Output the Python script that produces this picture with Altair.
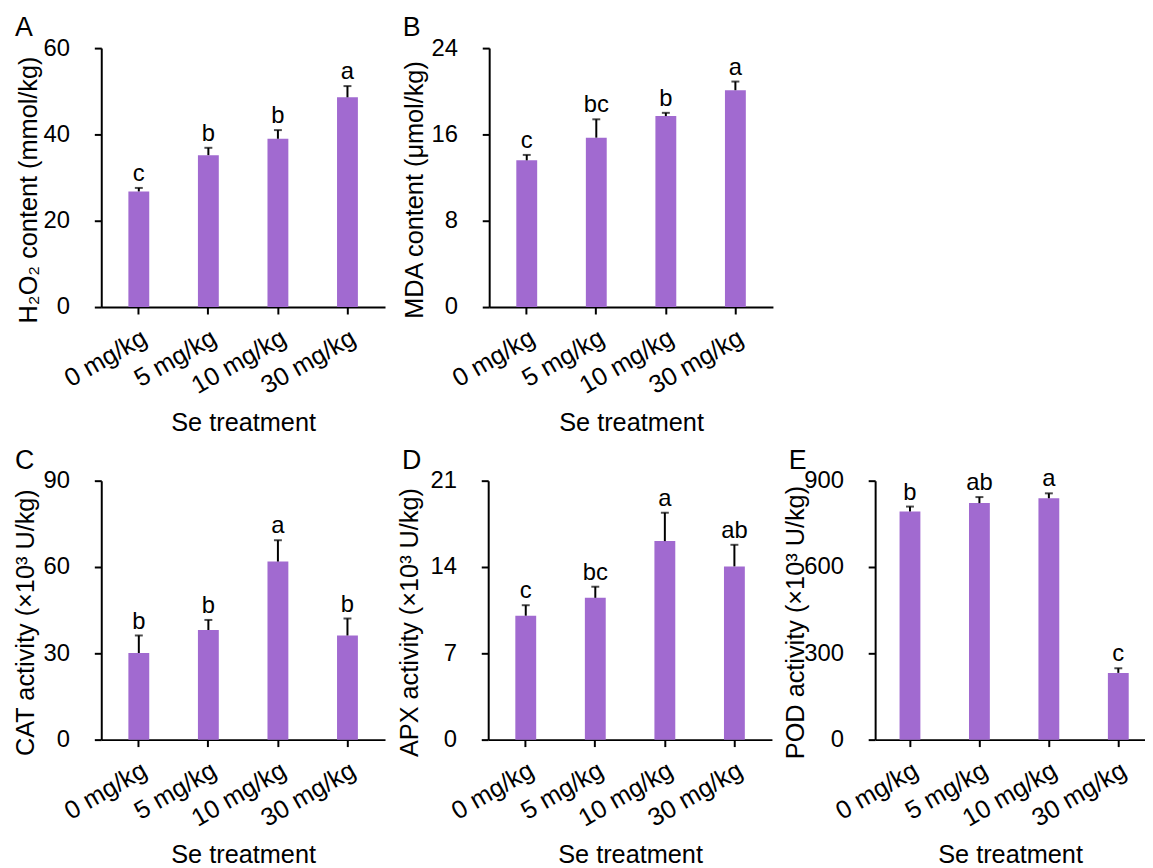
import altair as alt
import pandas as pd

categories = ["0 mg/kg", "5 mg/kg", "10 mg/kg", "30 mg/kg"]

h2o2_mean = [26.8, 35.2, 39.0, 48.6]
h2o2_err = [0.8, 1.7, 2.0, 2.6]
h2o2_sig = ["c", "b", "b", "a"]

mda_mean = [13.6, 15.7, 17.7, 20.1]
mda_err = [0.5, 1.7, 0.3, 0.8]
mda_sig = ["c", "bc", "b", "a"]

cat_mean = [30.1, 38.1, 61.9, 36.2]
cat_err = [6.1, 3.5, 7.4, 5.9]
cat_sig = ["b", "b", "a", "b"]

apx_mean = [10.05, 11.5, 16.1, 14.05]
apx_err = [0.85, 0.9, 2.3, 1.75]
apx_sig = ["c", "bc", "a", "ab"]

pod_mean = [793, 822, 839, 232]
pod_err = [17, 21, 17, 16]
pod_sig = ["b", "ab", "a", "c"]

panel_letters = ["A", "B", "C", "D", "E"]
y_titles = [
    "H\u2082O\u2082 content (mmol/kg)",
    "MDA content (\u03bcmol/kg)",
    "CAT activity (\u00d710\u00b3 U/kg)",
    "APX activity (\u00d710\u00b3 U/kg)",
    "POD activity (\u00d710\u00b3 U/kg)",
]
y_max = [60, 24, 90, 21, 900]
y_ticks = [[0, 20, 40, 60], [0, 8, 16, 24], [0, 30, 60, 90], [0, 7, 14, 21], [0, 300, 600, 900]]
x_title = "Se treatment"

PURPLE = "#A16AD0"
FONT = "Liberation Sans"
H = 261


def panel(letter, means, errs, sigs, ytitle, ymax, yticks, title_x,
          width=286, pad_outer=0.39, align=0.5):
    df = pd.DataFrame({"cat": categories, "mean": means, "err": errs, "sig": sigs})
    df["upper"] = df["mean"] + df["err"]

    xscale = alt.Scale(domain=categories, paddingInner=0.7, paddingOuter=pad_outer, align=align)
    xaxis = alt.Axis(
        title=x_title, labelAngle=330, labelAlign="right", labelBaseline="top",
        labelPadding=11, tickSize=7, tickWidth=2, tickColor="black",
        domainColor="black", domainWidth=2, labelFontSize=25.5, labelColor="black",
        labelFont=FONT, titleFont=FONT, titleFontSize=25.5, titleFontWeight="normal",
        titleColor="black", titleY=104, titleBaseline="top", grid=False,
    )
    yscale = alt.Scale(domain=[0, ymax], nice=False, zero=True)
    yaxis = alt.Axis(
        title=ytitle, values=yticks, tickSize=7, tickWidth=2, tickColor="black",
        domainColor="black", domainWidth=2, labelFontSize=24, labelColor="black",
        labelPadding=25, labelFont=FONT, labelFlush=False, titleFont=FONT,
        titleFontSize=25.5, titleFontWeight="normal", titleColor="black",
        titleX=title_x, titleY=H / 2 + 12, titleAngle=270, titleAlign="center",
        titleBaseline="bottom", grid=False,
    )

    def X():
        return alt.X("cat:N", scale=xscale, sort=categories, axis=xaxis)

    def Y(field):
        return alt.Y(field, scale=yscale, axis=yaxis)

    base = alt.Chart(df)
    bars = base.mark_bar(color=PURPLE).encode(x=X(), y=Y("mean:Q"))
    rule = base.mark_rule(color="black", strokeWidth=2).encode(x=X(), y=Y("mean:Q"), y2="upper:Q")
    cap = base.mark_tick(color="black", thickness=2, size=8).encode(x=X(), y=Y("upper:Q"))
    sig = base.mark_text(fontSize=24, font=FONT, baseline="alphabetic", dy=-7, color="black").encode(
        x=X(), y=Y("upper:Q"), text="sig:N"
    )
    lab = alt.Chart(pd.DataFrame({"t": [letter]})).mark_text(
        fontSize=27, font=FONT, align="left", baseline="alphabetic", color="black"
    ).encode(x=alt.value(-87), y=alt.value(-12), text="t:N")
    return alt.layer(bars, rule, cap, sig, lab).properties(width=width, height=H)


pA = panel(panel_letters[0], h2o2_mean, h2o2_err, h2o2_sig, y_titles[0], y_max[0], y_ticks[0], -60)
pB = panel(panel_letters[1], mda_mean, mda_err, mda_sig, y_titles[1], y_max[1], y_ticks[1], -62)
pC = panel(panel_letters[2], cat_mean, cat_err, cat_sig, y_titles[2], y_max[2], y_ticks[2], -63)
pD = panel(panel_letters[3], apx_mean, apx_err, apx_sig, y_titles[3], y_max[3], y_ticks[3], -66)
pE = panel(panel_letters[4], pod_mean, pod_err, pod_sig, y_titles[4], y_max[4], y_ticks[4], -67,
           width=272, pad_outer=0.293, align=0.6)

row1 = alt.hconcat(pA, pB, spacing=105, bounds="flush")
row2 = alt.hconcat(pC, pD, pE, spacing=104, bounds="flush")

chart = alt.vconcat(row1, row2, spacing=11).properties(
    padding={"left": 5, "top": 3, "right": 0, "bottom": 0}
).configure(font=FONT).configure_view(strokeWidth=0)

chart.save("out.html", embed_options={"renderer": "svg", "actions": False})
